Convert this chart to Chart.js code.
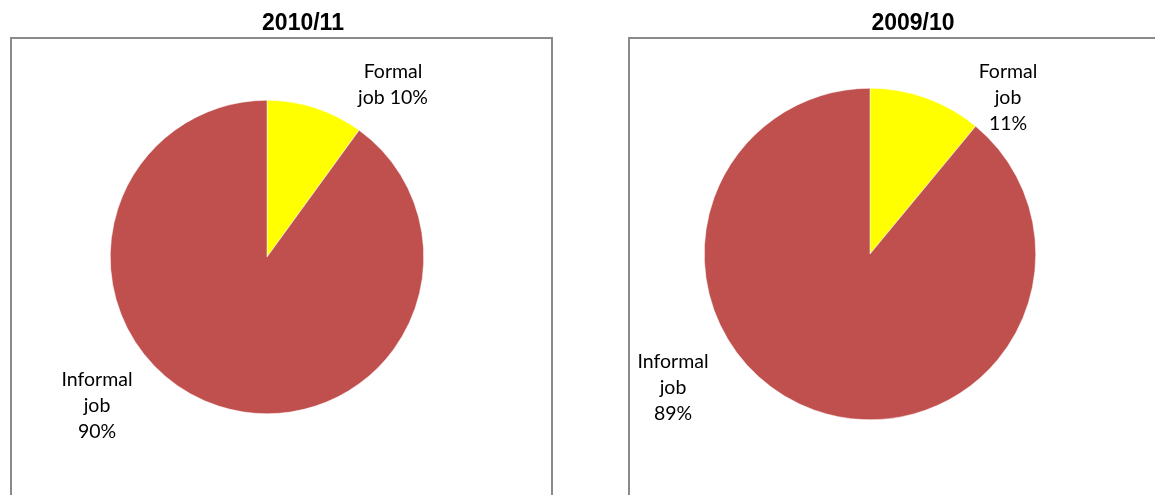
<!DOCTYPE html>
<html>
<head>
<meta charset="utf-8">
<script src="https://cdn.jsdelivr.net/npm/chart.js@4.4.1/dist/chart.umd.min.js"></script>
<style>
  html, body { margin: 0; padding: 0; background: #fff; }
  body { width: 1155px; height: 495px; position: relative; overflow: hidden; }
  .panel { position: absolute; top: 0; height: 495px; }
  .frame { position: absolute; border: 2px solid #8a8a8a; border-bottom: none; box-sizing: border-box; }
  canvas { position: absolute; left: 0; top: 0; }
</style>
</head>
<body>
<div class="frame" style="left:10px; top:37px; width:543px; height:470px;"></div>
<div class="frame" style="left:628px; top:37px; width:540px; height:470px;"></div>
<div class="panel" style="left:0; width:578px;"><canvas id="left" width="578" height="495"></canvas></div>
<div class="panel" style="left:578px; width:577px;"><canvas id="right" width="577" height="495"></canvas></div>
<script>
// Employment type shares by survey year
const categories = ['Formal job', 'Informal job'];
const years = ['2010/11', '2009/10'];
const shares201011 = [10, 90];
const shares200910 = [11, 89];

const sliceColors = ['#FFFF00', '#C0504D'];

// Draws the panel title and the slice labels at fixed anchor points
const pieText = {
  id: 'pieText',
  afterDraw(chart, args, opts) {
    const ctx = chart.ctx;
    ctx.save();
    ctx.textAlign = 'center';
    ctx.textBaseline = 'middle';
    ctx.fillStyle = '#000';
    ctx.font = 'bold 23px "Liberation Sans", Arial, sans-serif';
    ctx.fillText(opts.title, opts.titleX, opts.titleY);
    ctx.font = '19.5px Lato, "Open Sans", sans-serif';
    const ds = chart.data.datasets[0];
    chart.data.labels.forEach((label, i) => {
      const lines = opts.lines[i](label, ds.data[i] + '%');
      const a = opts.anchors[i];
      lines.forEach((t, k) => ctx.fillText(t, a[0], a[1] + k * 26));
    });
    ctx.restore();
  }
};

function makePie(id, title, values, pad, titleX, anchors, lines) {
  return new Chart(document.getElementById(id), {
    type: 'pie',
    data: {
      labels: categories,
      datasets: [{
        data: values,
        backgroundColor: sliceColors,
        borderColor: '#ffffff',
        borderWidth: 0.5
      }]
    },
    options: {
      responsive: false,
      animation: false,
      layout: { padding: pad },
      plugins: {
        legend: { display: false },
        tooltip: { enabled: false },
        title: { display: false },
        pieText: { title: title, titleX: titleX, titleY: 24, anchors: anchors, lines: lines }
      }
    },
    plugins: [pieText]
  });
}

const splitLabel = (label, pct) => {
  const w = label.split(' ');
  return [w[0], w.slice(1).join(' '), pct];
};

makePie('left', years[0], shares201011,
  { left: 110, top: 100, right: 154, bottom: 81 }, 303,
  [[393, 72], [97, 380]],
  [
    (label, pct) => { const w = label.split(' '); return [w[0], w[1] + ' ' + pct]; },
    splitLabel
  ]);

makePie('right', years[1], shares200910,
  { left: 126, top: 88, right: 119, bottom: 75 }, 335,
  [[430, 72], [95, 362]],
  [splitLabel, splitLabel]);
</script>
</body>
</html>
